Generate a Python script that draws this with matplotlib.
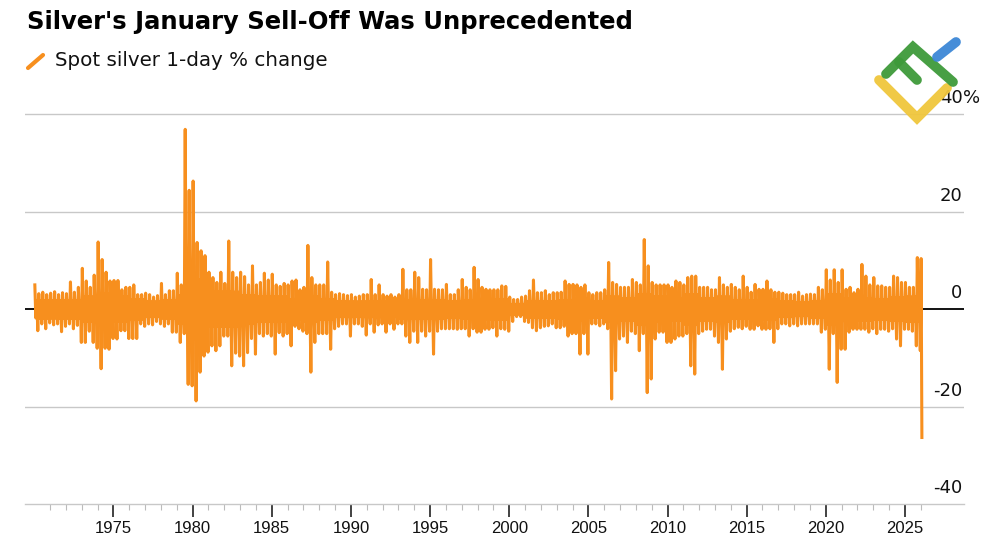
import matplotlib
matplotlib.use("Agg")
import matplotlib.pyplot as plt
from matplotlib.lines import Line2D
import numpy as np

plt.rcParams["font.family"] = ["Liberation Sans", "DejaVu Sans"]

## Spot silver 1-day % change.
## hi_/lo_ : biggest daily gain / loss in each quarter (one row per year)
hi_1970s = [[5.0, 3.2, 3.5, 3.0], [3.3, 3.6, 3.0, 3.4], [3.2, 5.6, 3.5, 4.5],
            [8.4, 5.8, 4.5, 7.0], [13.8, 10.2, 7.6, 5.8], [5.9, 5.9, 4.0, 4.5],
            [4.5, 5.0, 3.0, 3.0], [3.3, 3.0, 2.5, 2.8], [5.3, 3.0, 3.8, 3.8],
            [7.4, 5.0, 36.9, 24.4]]
lo_1970s = [[-4.4, -3.0, -4.0, -2.8], [-3.2, -3.0, -4.6, -3.5], [-3.0, -4.0, -3.3, -6.8],
            [-6.8, -4.5, -6.8, -8.0], [-12.2, -8.0, -8.2, -6.0], [-6.1, -4.4, -4.4, -6.0],
            [-6.0, -6.0, -3.0, -3.5], [-3.0, -3.2, -2.5, -3.0], [-3.5, -3.0, -4.7, -4.7],
            [-6.8, -5.0, -15.4, -15.7]]

hi_1980s = [[26.3, 13.7, 12.0, 11.0], [7.6, 6.5, 5.5, 7.6], [5.3, 14.0, 7.6, 6.5],
            [7.6, 6.7, 5.0, 8.9], [5.0, 5.5, 7.4, 6.0], [7.2, 5.0, 4.7, 5.3],
            [5.0, 5.8, 6.0, 4.0], [4.5, 13.1, 6.5, 5.0], [5.0, 5.0, 9.7, 3.5],
            [3.0, 3.2, 3.0, 2.8]]
lo_1980s = [[-18.8, -12.9, -9.6, -8.8], [-7.5, -8.5, -7.5, -5.5], [-5.5, -11.6, -9.0, -9.6],
            [-11.6, -8.9, -6.0, -9.2], [-5.0, -5.5, -5.0, -5.5], [-9.2, -4.8, -5.5, -5.0],
            [-7.5, -3.5, -4.0, -4.5], [-5.0, -12.9, -6.8, -5.0], [-5.0, -5.0, -8.2, -4.0],
            [-3.5, -3.0, -3.0, -5.5]]

hi_1990s = [[3.0, 2.5, 2.7, 3.0], [3.0, 6.1, 3.0, 5.0], [3.0, 2.7, 3.0, 2.5],
            [3.0, 8.2, 4.0, 4.0], [7.6, 6.5, 4.1, 4.0], [10.2, 4.1, 4.0, 4.0],
            [5.1, 3.0, 3.0, 4.0], [6.1, 4.5, 4.0, 8.6], [6.1, 4.5, 4.1, 4.0],
            [4.0, 4.0, 4.8, 4.7]]
lo_1990s = [[-3.0, -3.0, -3.5, -5.3], [-3.0, -4.7, -3.2, -3.0], [-4.7, -3.0, -4.1, -3.0],
            [-3.0, -5.5, -6.8, -4.5], [-6.8, -4.5, -5.5, -4.5], [-9.2, -4.5, -4.0, -4.0],
            [-4.0, -4.0, -4.1, -4.0], [-4.0, -5.5, -4.0, -4.7], [-4.7, -4.1, -4.1, -3.8],
            [-5.5, -4.0, -4.1, -4.5]]

hi_2000s = [[2.5, 2.0, 2.0, 2.5], [2.7, 3.8, 6.0, 3.4], [3.4, 3.8, 3.0, 3.4],
            [3.4, 3.5, 5.8, 5.1], [5.1, 5.0, 4.5, 5.0], [3.4, 3.0, 3.4, 3.4],
            [4.0, 9.6, 5.5, 5.1], [4.5, 4.5, 4.5, 6.1], [5.5, 5.0, 14.3, 8.9],
            [5.5, 5.0, 5.0, 5.0]]
lo_2000s = [[-2.5, -1.5, -1.5, -2.5], [-2.7, -3.8, -4.4, -3.8], [-3.5, -3.4, -3.0, -3.8],
            [-3.8, -3.5, -5.5, -5.0], [-5.0, -9.2, -5.0, -9.2], [-3.0, -3.0, -3.4, -3.0],
            [-4.0, -18.4, -12.6, -6.1], [-5.5, -6.8, -4.5, -5.0], [-8.5, -5.0, -17.1, -14.3],
            [-6.1, -4.7, -4.7, -6.8]]

hi_2010s = [[5.0, 4.5, 5.8, 5.5], [5.0, 6.5, 6.8, 6.8], [4.5, 4.5, 4.5, 4.0],
            [4.0, 6.5, 5.0, 4.5], [5.1, 4.5, 4.0, 6.8], [4.5, 3.5, 5.1, 4.1],
            [4.1, 5.8, 4.0, 3.5], [3.5, 3.3, 3.0, 3.0], [3.0, 3.5, 2.7, 3.0],
            [3.1, 3.0, 4.5, 4.0]]
lo_2010s = [[-6.8, -6.1, -5.5, -5.5], [-5.0, -11.6, -13.3, -5.0], [-4.5, -4.1, -4.1, -5.5],
            [-6.8, -12.3, -6.1, -4.5], [-4.0, -3.7, -4.0, -3.5], [-4.1, -4.1, -3.4, -4.1],
            [-4.1, -4.0, -6.8, -4.0], [-3.0, -3.0, -3.4, -3.0], [-3.4, -3.0, -3.0, -3.0],
            [-3.0, -3.0, -4.7, -4.1]]

hi_2020s = [[8.1, 6.0, 8.1, 5.5], [8.1, 4.1, 4.5, 3.4], [4.1, 9.2, 6.8, 5.0],
            [6.5, 4.8, 4.8, 4.5], [4.5, 6.8, 6.5, 5.5], [5.5, 4.5, 4.5, 10.6]]
lo_2020s = [[-12.3, -5.0, -15.0, -8.2], [-8.2, -4.7, -4.1, -4.1], [-4.1, -4.1, -4.7, -4.0],
            [-5.0, -4.1, -4.1, -4.5], [-4.0, -6.1, -7.5, -4.1], [-4.1, -4.5, -7.5, -8.5]]

# typical (solid band) size of daily moves, one value per year 1970-2025
core = [1.8, 1.8, 1.8, 2.5, 3.2, 2.5, 2.0, 1.5, 1.8, 2.8,
        6.0, 3.5, 3.5, 2.8, 2.5, 2.5, 2.0, 2.5, 2.0, 1.5,
        1.5, 1.5, 1.5, 1.8, 1.8, 1.8, 1.6, 1.8, 2.0, 2.0,
        1.0, 1.6, 1.6, 1.8, 2.2, 1.6, 2.5, 2.2, 3.0, 2.5,
        2.2, 3.0, 2.2, 2.5, 1.8, 1.8, 2.0, 1.5, 1.3, 1.6,
        3.0, 2.2, 2.2, 2.0, 2.3, 2.5]

# January 2026: last rally then the record one-day drop
jan_2026 = [10.4, -26.3]

## Build the series: in each quarter the big gain day, ordinary days, the big loss day
highs = hi_1970s + hi_1980s + hi_1990s + hi_2000s + hi_2010s + hi_2020s
lows = lo_1970s + lo_1980s + lo_1990s + lo_2000s + lo_2010s + lo_2020s
t, v = [], []
for i, (h_row, l_row) in enumerate(zip(highs, lows)):
    year = 1970 + i
    for q in range(4):
        start = year + q / 4
        t += [start + 1 / 32, start + 3 / 32, start + 5 / 32, start + 7 / 32]
        v += [h_row[q], -core[i], core[i], l_row[q]]
t += [2026.02, 2026.07]
v += jan_2026
t, v = np.array(t), np.array(v)

orange = "#F78F1E"

fig = plt.figure(figsize=(10, 5.45), dpi=100)
ax = fig.add_axes([0.025, 0.0747, 0.939, 0.751])

for y in [40, 20, -20]:
    ax.axhline(y, color="#c8c8c8", lw=1.0, zorder=1)
ax.axhline(0, color="black", lw=1.3, zorder=2)
ax.plot(t, v, color=orange, lw=2.2, zorder=3)

ax.set_xlim(1969.41, 2028.73)
ax.set_ylim(-40, 43.95)

for s in ["top", "right", "left"]:
    ax.spines[s].set_visible(False)
ax.spines["bottom"].set_color("#c8c8c8")
ax.spines["bottom"].set_linewidth(1.0)

major = list(range(1975, 2026, 5))
minor = [y for y in range(1971, 2027) if y % 5 != 0]
ax.set_xticks(major)
ax.set_xticklabels([str(y) for y in major])
ax.set_xticks(minor, minor=True)
ax.tick_params(axis="x", which="major", length=9, width=1.2, color="#222222",
               labelsize=12, pad=3, labelcolor="#111111")
ax.tick_params(axis="x", which="minor", length=4, width=0.8, color="#bbbbbb")
ax.set_yticks([])

# y labels sit above their gridlines at the right edge
ylabels = [(40, "40"), (20, "20"), (0, "0"), (-20, "-20"), (-40, "-40")]
for y, lab in ylabels:
    ax.annotate(lab, xy=(1.0, y), xycoords=("axes fraction", "data"),
                xytext=(-1, 11.5), textcoords="offset points",
                ha="right", va="center", fontsize=13, color="#111111",
                family="DejaVu Sans")
ax.annotate("%", xy=(1.0, 40), xycoords=("axes fraction", "data"),
            xytext=(-1, 11.5), textcoords="offset points",
            ha="left", va="center", fontsize=13, color="#111111",
            family="DejaVu Sans")

# title and legend
fig.text(0.027, 1 - 22 / 545, "Silver's January Sell-Off Was Unprecedented",
         ha="left", va="center", fontsize=17.5, fontweight="bold", color="black",
         family="DejaVu Sans")
fig.add_artist(Line2D([0.028, 0.043], [1 - 68 / 545, 1 - 55 / 545],
                      color=orange, lw=3, solid_capstyle="round"))
fig.text(0.055, 1 - 60 / 545, "Spot silver 1-day % change",
         ha="left", va="center", fontsize=14.3, color="#111111",
         family="DejaVu Sans")

# watermark logo, top right
def fpt(x, y):
    return x / 1000, 1 - y / 545

def stroke(pts, color, lw):
    xs, ys = zip(*[fpt(x, y) for x, y in pts])
    fig.add_artist(Line2D(xs, ys, color=color, lw=lw, solid_capstyle="round",
                          solid_joinstyle="miter", alpha=0.95))

stroke([(879, 80), (917, 118), (947, 88)], "#F0C63C", 7)
stroke([(886, 74), (913, 47), (953, 82)], "#3E9A3A", 7)
stroke([(899, 62), (917, 80)], "#3E9A3A", 7)
stroke([(937, 57), (956, 42)], "#3C87D6", 7)

fig.savefig("out.png", dpi=100)
